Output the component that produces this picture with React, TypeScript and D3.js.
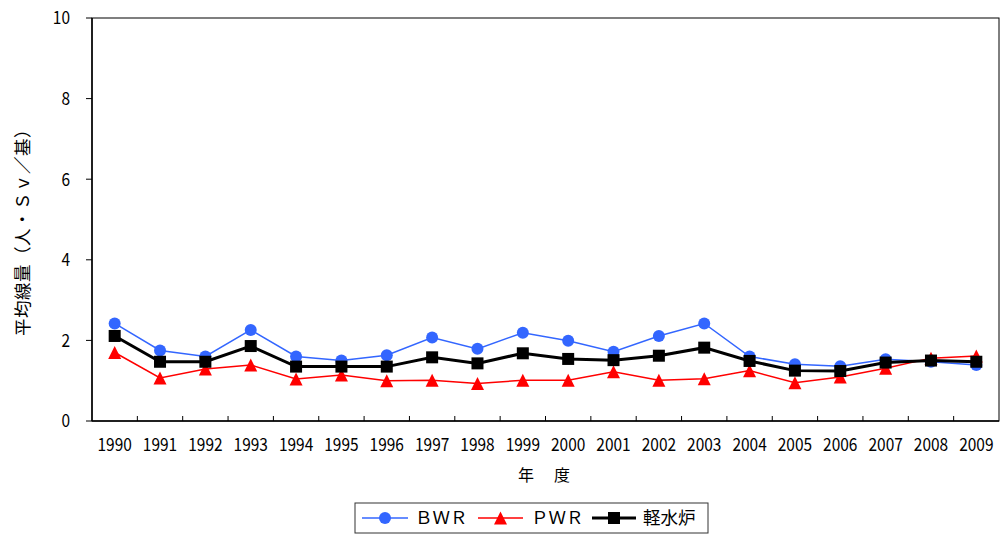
import React from "react";
import * as d3 from "d3";

const years = [
  "1990", "1991", "1992", "1993", "1994", "1995", "1996", "1997", "1998", "1999",
  "2000", "2001", "2002", "2003", "2004", "2005", "2006", "2007", "2008", "2009",
];
const bwr = [2.42, 1.75, 1.6, 2.26, 1.6, 1.5, 1.63, 2.07, 1.79, 2.19, 1.99, 1.72, 2.11, 2.42, 1.6, 1.41, 1.36, 1.53, 1.47, 1.39];
const pwr = [1.7, 1.07, 1.29, 1.39, 1.04, 1.14, 1.0, 1.01, 0.93, 1.01, 1.01, 1.22, 1.01, 1.05, 1.25, 0.95, 1.09, 1.31, 1.56, 1.61];
const lwr = [2.11, 1.47, 1.47, 1.86, 1.35, 1.35, 1.35, 1.58, 1.43, 1.68, 1.54, 1.51, 1.62, 1.82, 1.49, 1.25, 1.24, 1.45, 1.5, 1.47];
const yTicks = [0, 2, 4, 6, 8, 10];

const W = 1002;
const H = 534;
const left = 92;
const right = 999;
const top = 18;
const bottom = 421;
const FONT = "'Noto Sans CJK JP', 'Noto Sans', sans-serif";

const BLUE = "#3366ff";
const RED = "#ff0000";
const BLACK = "#000000";

function Marker({ kind, x, y, color }: { kind: string; x: number; y: number; color: string }) {
  if (kind === "circle") return <circle cx={x} cy={y} r={6} fill={color} />;
  if (kind === "triangle") {
    const s = 6.5;
    return <path d={`M${x},${y - s}L${x + s},${y + s}L${x - s},${y + s}Z`} fill={color} />;
  }
  return <rect x={x - 6} y={y - 6} width={12} height={12} fill={color} />;
}

// narrow-set numerals for the axis labels
function Num({ x, y, anchor, children }: { x: number; y: number; anchor: string; children: React.ReactNode }) {
  return (
    <text transform={`translate(${x},${y}) scale(0.86,1)`} dy="0.36em" textAnchor={anchor} fontSize={18}>
      {children}
    </text>
  );
}

export default function App() {
  const x = d3.scaleBand<string>().domain(years).range([left, right]);
  const y = d3.scaleLinear().domain([0, 10]).range([bottom, top]);
  const cx = (d: string) => (x(d) ?? 0) + x.bandwidth() / 2;

  const line = (vals: number[]) =>
    d3.line<number>().x((_, i) => cx(years[i])).y((v) => y(v))(vals) ?? "";

  const series = [
    { name: "ＢＷＲ", vals: bwr, color: BLUE, width: 1.5, kind: "circle" },
    { name: "ＰＷＲ", vals: pwr, color: RED, width: 1.5, kind: "triangle" },
    { name: "軽水炉", vals: lwr, color: BLACK, width: 3, kind: "square" },
  ];

  const legendItems = [
    { x0: 362, x1: 408, tx: 415 },
    { x0: 478, x1: 523, tx: 531 },
    { x0: 592, x1: 636, tx: 643 },
  ];
  const ly = 518;

  return (
    <svg width={W} height={H} style={{ position: "absolute", left: 0, top: 0, background: "#fff" }} fontFamily={FONT}>
      <rect x={0} y={0} width={W} height={H} fill="#fff" />
      {/* plot frame */}
      <rect x={left} y={top} width={right - left} height={bottom - top} fill="none" stroke="#000" strokeWidth={1} />
      <line x1={left} x2={left} y1={top} y2={bottom} stroke="#000" strokeWidth={1.5} />
      <line x1={left} x2={right} y1={bottom} y2={bottom} stroke="#000" strokeWidth={1.5} />

      {/* y axis */}
      {yTicks.map((t) => (
        <g key={t}>
          <line x1={left - 6} x2={left} y1={y(t)} y2={y(t)} stroke="#000" strokeWidth={1} />
          <Num x={70} y={y(t)} anchor="end">{t}</Num>
        </g>
      ))}

      {/* x axis */}
      {years.map((d, i) => (
        <g key={d}>
          {i > 0 && <line x1={x(d)} x2={x(d)} y1={bottom - 5} y2={bottom} stroke="#000" strokeWidth={1} />}
          <Num x={cx(d)} y={445} anchor="middle">{d}</Num>
        </g>
      ))}

      <text x={545} y={475} dy="0.35em" textAnchor="middle" fontSize={16} letterSpacing={2}>年　度</text>
      <text transform={`translate(23,228) rotate(-90)`} dy="0.35em" textAnchor="middle" fontSize={17.5} letterSpacing={0.5}>平均線量（人・Ｓｖ／基）</text>

      {/* series */}
      {series.map((s) => (
        <g key={s.name}>
          <path d={line(s.vals)} fill="none" stroke={s.color} strokeWidth={s.width} />
          {s.vals.map((v, i) => (
            <Marker key={i} kind={s.kind} x={cx(years[i])} y={y(v)} color={s.color} />
          ))}
        </g>
      ))}

      {/* legend */}
      <rect x={355} y={503} width={353} height={30} fill="#fff" stroke="#333" strokeWidth={1} />
      {series.map((s, i) => {
        const it = legendItems[i];
        return (
          <g key={s.name}>
            <line x1={it.x0} x2={it.x1} y1={ly} y2={ly} stroke={s.color} strokeWidth={s.width} />
            <Marker kind={s.kind} x={(it.x0 + it.x1) / 2} y={ly} color={s.color} />
            <text x={it.tx} y={ly} dy="0.35em" fontSize={17.5}>{s.name}</text>
          </g>
        );
      })}
    </svg>
  );
}
